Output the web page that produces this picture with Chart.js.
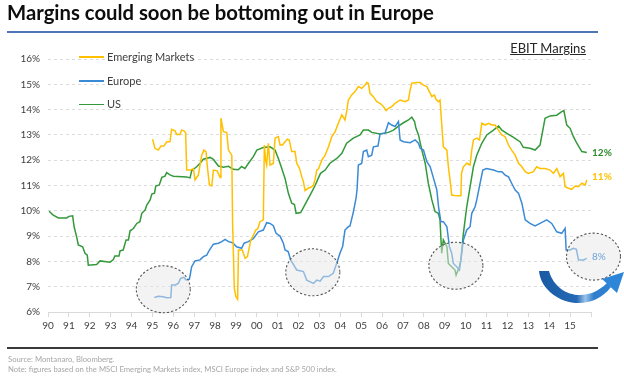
<!DOCTYPE html>
<html>
<head>
<meta charset="utf-8">
<script src="https://cdn.jsdelivr.net/npm/chart.js@4.4.1/dist/chart.umd.min.js"></script>
<style>
  html,body{margin:0;padding:0;background:#fff;}
  #wrap{position:relative;width:624px;height:378px;overflow:hidden;font-family:Lato,"Open Sans",sans-serif;}
  #c{position:absolute;left:0;top:0;}
  .abs{position:absolute;white-space:nowrap;}
</style>
</head>
<body>
<div id="wrap">
  <canvas id="c" width="624" height="378"></canvas>
  <div class="abs" id="title" style="left:7px;top:1px;font-size:20.3px;font-weight:700;color:#0d0d0d;line-height:23px;">Margins could soon be bottoming out in Europe</div>
  <div class="abs" style="left:7px;top:31px;width:591px;height:2px;background:#4f74b8;"></div>
  <div class="abs" style="right:38px;top:40px;font-size:13px;color:#262626;text-decoration:underline;line-height:16px;">EBIT Margins</div>
  <div class="abs" style="left:79px;top:56px;width:25px;height:1.5px;background:#FFC000;"></div>
  <div class="abs" style="left:107px;top:50px;font-size:11px;color:#404040;line-height:14px;">Emerging Markets</div>
  <div class="abs" style="left:79px;top:80px;width:25px;height:1.5px;background:#3A8AD6;"></div>
  <div class="abs" style="left:107px;top:74px;font-size:11px;color:#404040;line-height:14px;">Europe</div>
  <div class="abs" style="left:79px;top:103.5px;width:25px;height:1.5px;background:#33993A;"></div>
  <div class="abs" style="left:107px;top:97px;font-size:11px;color:#404040;line-height:14px;">US</div>
  <div class="abs" style="left:7px;top:347px;width:591px;height:1.5px;background:#3a3a3a;"></div>
  <div class="abs" style="left:8px;top:354px;font-size:7.7px;color:#a6a6a6;line-height:10px;">Source: Montanaro, Bloomberg.</div>
  <div class="abs" style="left:8px;top:364px;font-size:7.7px;color:#a6a6a6;line-height:10px;">Note: figures based on the MSCI Emerging Markets index, MSCI Europe index and S&amp;P 500 index.</div>
</div>
<script>
// ---- Data ----
const xTickYears = [1990,1991,1992,1993,1994,1995,1996,1997,1998,1999,2000,2001,2002,2003,2004,2005,2006,2007,2008,2009,2010,2011,2012,2013,2014,2015,2016];
const xTickLabels = ['90','91','92','93','94','95','96','97','98','99','00','01','02','03','04','05','06','07','08','09','10','11','12','13','14','15',''];
const yTickValues = [6,7,8,9,10,11,12,13,14,15,16];

const usYears = [1990.05,1990.25,1990.5,1990.9,1991.0,1991.18,1991.25,1991.37,1991.45,1991.66,1991.77,1991.88,1991.93,1992.33,1992.49,1992.97,1993.13,1993.2,1993.4,1993.45,1993.6,1993.74,1993.85,1993.93,1994.09,1994.25,1994.4,1994.49,1994.65,1994.73,1994.89,1994.97,1995.1,1995.16,1995.33,1995.45,1995.6,1995.68,1995.84,1996.0,1996.64,1996.8,1996.88,1997.12,1997.28,1997.44,1997.76,1997.92,1998.16,1998.4,1998.64,1998.87,1999.11,1999.27,1999.43,1999.6,1999.83,2000.0,2000.31,2000.63,2000.87,2001.03,2001.19,2001.35,2001.51,2001.67,2001.8,2001.88,2002.1,2002.31,2002.55,2002.79,2002.95,2003.05,2003.27,2003.5,2003.83,2004.07,2004.3,2004.62,2004.94,2005.1,2005.34,2005.5,2005.9,2006.3,2006.54,2006.78,2007.02,2007.26,2007.42,2007.55,2007.62,2007.74,2007.9,2008.06,2008.21,2008.38,2008.53,2008.69,2008.77,2008.85,2008.93,2009.1,2009.17,2009.33,2009.49,2009.54,2009.7,2009.77,2009.89,2010.05,2010.21,2010.37,2010.53,2010.77,2011.01,2011.33,2011.57,2011.73,2011.97,2012.29,2012.6,2012.76,2013.08,2013.32,2013.56,2013.8,2014.04,2014.36,2014.6,2014.7,2014.84,2015.0,2015.16,2015.32,2015.56,2015.8];
const usValues = [9.98,9.83,9.72,9.72,9.78,9.8,9.37,8.98,8.65,8.58,8.32,8.25,7.85,7.88,8.02,7.97,8.07,8.21,8.21,8.42,8.45,8.85,8.85,9.21,9.30,9.50,9.57,9.90,10.03,10.23,10.43,10.66,10.70,10.98,11.02,11.32,11.37,11.51,11.42,11.37,11.34,11.30,11.59,11.74,11.88,12.04,12.11,12.03,11.77,11.72,11.76,11.64,11.62,11.75,11.67,11.88,12.14,12.40,12.50,12.53,12.40,12.07,11.68,11.28,10.69,10.30,10.25,9.90,9.93,10.25,10.62,11.0,11.3,11.48,11.61,11.88,12.07,12.27,12.67,12.87,13.0,13.19,13.19,13.10,13.04,13.10,13.19,13.35,13.48,13.59,13.70,13.53,13.26,13.0,12.40,11.88,11.09,10.43,9.97,9.90,9.64,8.32,8.85,8.58,7.92,7.79,7.66,7.46,7.79,8.06,9.11,10.16,10.95,11.74,12.2,12.67,13.0,13.19,13.35,13.19,13.06,12.9,12.73,12.51,12.47,12.40,12.60,13.66,13.75,13.78,13.92,13.96,13.39,13.26,12.93,12.67,12.34,12.30];

const euYears = [1995.09,1995.28,1995.52,1995.68,1995.88,1995.92,1996.1,1996.24,1996.35,1996.5,1996.61,1996.77,1996.88,1997.04,1997.28,1997.44,1997.6,1997.73,1997.92,1998.16,1998.32,1998.48,1998.64,1998.84,1999.03,1999.27,1999.39,1999.59,1999.83,2000.07,2000.31,2000.47,2000.63,2000.79,2000.92,2001.11,2001.27,2001.35,2001.5,2001.62,2001.91,2002.23,2002.39,2002.71,2002.87,2003.03,2003.19,2003.43,2003.66,2003.82,2003.98,2004.11,2004.22,2004.38,2004.46,2004.62,2004.75,2004.8,2004.86,2005.02,2005.1,2005.26,2005.34,2005.5,2005.58,2005.8,2005.9,2006.14,2006.3,2006.46,2006.62,2006.78,2006.86,2007.02,2007.34,2007.58,2007.74,2007.82,2007.98,2008.14,2008.3,2008.46,2008.62,2008.7,2008.81,2008.93,2009.1,2009.22,2009.33,2009.41,2009.57,2009.7,2009.77,2009.89,2010.05,2010.21,2010.29,2010.45,2010.53,2010.69,2010.82,2011.0,2011.33,2011.57,2011.73,2011.89,2012.05,2012.2,2012.37,2012.53,2012.69,2012.85,2013.08,2013.32,2013.56,2013.88,2014.12,2014.36,2014.6,2014.76,2014.81,2015.0,2015.16,2015.3,2015.4,2015.64,2015.8];
const euValues = [6.57,6.62,6.60,6.56,6.57,7.07,7.07,7.13,7.33,7.37,7.27,7.30,7.79,8.02,8.06,8.19,8.25,8.45,8.68,8.72,8.78,8.87,8.78,8.74,8.58,8.52,8.72,8.78,8.90,9.17,9.24,9.53,9.50,9.41,9.11,9.0,8.72,8.45,8.39,8.06,7.66,7.60,7.26,7.13,7.26,7.22,7.40,7.40,7.53,7.92,8.32,8.60,9.24,9.37,9.40,9.95,10.5,10.85,11.81,11.87,12.34,12.40,12.14,12.20,12.53,12.56,13.04,13.07,13.48,13.39,13.33,13.53,12.80,12.73,12.69,12.80,12.67,12.47,12.40,11.94,11.74,11.28,10.82,10.16,9.57,9.57,9.37,8.58,8.32,7.92,7.79,7.66,8.06,8.85,9.24,9.37,9.90,10.16,10.43,11.09,11.61,11.67,11.61,11.54,11.54,11.41,11.34,11.09,10.82,10.69,10.30,9.64,9.50,9.40,9.50,9.64,9.50,9.17,9.11,9.31,8.45,8.45,8.52,8.48,8.06,8.06,8.12];

const emYears = [1995.01,1995.12,1995.28,1995.41,1995.55,1995.68,1995.84,1995.92,1996.08,1996.16,1996.32,1996.4,1996.51,1996.59,1996.64,1996.8,1996.96,1997.04,1997.2,1997.36,1997.47,1997.57,1997.63,1997.73,1997.84,1997.92,1998.1,1998.24,1998.28,1998.4,1998.56,1998.64,1998.8,1998.84,1998.92,1999.0,1999.08,1999.12,1999.3,1999.44,1999.55,1999.71,1999.8,1999.95,2000.05,2000.15,2000.31,2000.36,2000.42,2000.47,2000.55,2000.63,2000.79,2000.87,2001.03,2001.11,2001.23,2001.35,2001.46,2001.55,2001.67,2001.83,2001.91,2002.04,2002.15,2002.23,2002.31,2002.47,2002.63,2002.71,2002.79,2002.87,2002.95,2003.11,2003.27,2003.43,2003.59,2003.75,2003.9,2004.07,2004.22,2004.3,2004.38,2004.54,2004.7,2004.86,2005.02,2005.18,2005.26,2005.34,2005.42,2005.58,2005.74,2005.9,2006.06,2006.19,2006.3,2006.46,2006.62,2006.86,2007.1,2007.26,2007.34,2007.42,2007.66,2007.82,2007.98,2008.14,2008.26,2008.38,2008.5,2008.58,2008.69,2008.77,2008.85,2008.93,2009.1,2009.17,2009.25,2009.33,2009.57,2009.77,2009.8,2009.89,2010.05,2010.21,2010.29,2010.37,2010.53,2010.66,2010.77,2010.93,2011.09,2011.25,2011.41,2011.57,2011.73,2011.89,2012.05,2012.2,2012.37,2012.53,2012.69,2012.85,2013.0,2013.24,2013.4,2013.56,2013.8,2014.04,2014.2,2014.36,2014.52,2014.68,2014.76,2014.92,2015.08,2015.24,2015.4,2015.56,2015.72,2015.8];
const emValues = [12.83,12.47,12.40,12.56,12.56,12.73,12.73,13.22,13.16,13.02,13.02,13.19,13.16,13.08,11.61,11.61,11.67,11.22,11.42,12.20,12.40,12.33,11.74,11.02,10.98,11.61,11.58,11.32,13.66,13.13,13.09,12.40,12.20,9.50,6.94,6.60,6.50,8.45,8.45,8.12,8.19,8.85,8.98,9.24,9.30,9.57,9.64,12.60,12.00,11.81,12.67,11.81,11.87,12.87,12.93,12.60,12.60,12.73,12.83,12.80,12.34,12.34,11.88,11.68,11.35,11.15,10.80,10.90,10.95,11.02,11.25,11.61,11.65,12.0,12.2,12.53,12.93,13.13,13.46,13.79,13.59,13.92,14.38,14.58,14.71,14.91,14.84,14.97,15.07,15.04,14.64,14.51,14.31,14.25,14.12,13.96,14.05,14.12,14.25,14.38,14.31,14.38,14.78,15.04,15.07,15.07,14.97,14.91,14.71,14.51,14.58,14.41,14.31,14.38,13.46,12.53,12.40,11.74,11.22,10.62,10.59,10.59,11.48,11.74,11.88,11.81,12.40,12.80,12.87,12.80,13.46,13.39,13.46,13.39,13.39,13.19,13.0,12.93,12.60,12.40,12.20,11.88,11.74,11.55,11.48,11.55,11.74,11.67,11.67,11.61,11.48,11.67,11.35,11.48,10.95,10.89,10.85,10.98,10.95,11.09,11.02,11.22];

// annotation circles (data units for centres)
const circleYears = [1995.52, 2002.68, 2009.53, 2016.12];
const circleValues = [6.90, 7.57, 7.83, 8.19];
const endLabels = ['12%', '11%', '8%'];
const endLabelValues = [12.28, 11.34, 8.17];

const pts = (xs, ys) => xs.map((x, i) => ({x, y: ys[i]}));

const annotations = {
  id: 'annotations',
  afterDatasetsDraw(chart) {
    const {ctx, scales: {x, y}} = chart;
    ctx.save();
    // dashed circles
    for (let i = 0; i < circleYears.length; i++) {
      const cx = x.getPixelForValue(circleYears[i]);
      const cy = y.getPixelForValue(circleValues[i]);
      ctx.beginPath();
      ctx.ellipse(cx, cy, 27, 23.5, 0, 0, Math.PI * 2);
      ctx.fillStyle = 'rgba(232,232,232,0.5)';
      ctx.fill();
      ctx.setLineDash([2.2, 2]);
      ctx.lineWidth = 1.1;
      ctx.strokeStyle = '#555';
      ctx.stroke();
    }
    ctx.setLineDash([]);
    // end labels
    const lx = x.getPixelForValue(2016.05);
    ctx.font = 'bold 10px Lato';
    ctx.textBaseline = 'middle';
    ctx.textAlign = 'left';
    ctx.fillStyle = '#2E8B2E';
    ctx.fillText(endLabels[0], lx, y.getPixelForValue(endLabelValues[0]));
    ctx.fillStyle = '#FFC000';
    ctx.fillText(endLabels[1], lx, y.getPixelForValue(endLabelValues[1]));
    ctx.font = '10px Lato';
    ctx.fillStyle = '#6FA3DA';
    ctx.fillText(endLabels[2], lx, y.getPixelForValue(endLabelValues[2]));
    // curved arrow
    const g = ctx.createLinearGradient(538, 0, 624, 0);
    g.addColorStop(0, '#1A5AA3');
    g.addColorStop(0.45, '#2369B5');
    g.addColorStop(0.55, '#9CC2E8');
    g.addColorStop(0.65, '#2E7ECC');
    g.addColorStop(1, '#2E86D8');
    ctx.fillStyle = g;
    ctx.beginPath();
    ctx.moveTo(539, 271);
    ctx.bezierCurveTo(542, 301, 588, 317, 611, 287);
    ctx.lineTo(607, 283);
    ctx.bezierCurveTo(586, 304, 556, 296, 549, 271);
    ctx.closePath();
    ctx.fill();
    ctx.beginPath();
    ctx.moveTo(624, 272);
    ctx.lineTo(602, 279);
    ctx.lineTo(617, 293);
    ctx.closePath();
    ctx.fillStyle = '#2E86D8';
    ctx.fill();
    ctx.restore();
  }
};

new Chart(document.getElementById('c'), {
  type: 'line',
  data: {
    datasets: [
      {label: 'Emerging Markets', data: pts(emYears, emValues), borderColor: '#FFC000', borderWidth: 1.5, pointRadius: 0, tension: 0, fill: false},
      {label: 'Europe', data: pts(euYears, euValues), borderColor: '#3A8AD6', borderWidth: 1.5, pointRadius: 0, tension: 0, fill: false},
      {label: 'US', data: pts(usYears, usValues), borderColor: '#33993A', borderWidth: 1.5, pointRadius: 0, tension: 0, fill: false}
    ]
  },
  options: {
    responsive: false,
    animation: false,
    devicePixelRatio: 1,
    layout: {padding: {left: 0, right: 33, top: 59, bottom: 36}},
    plugins: {legend: {display: false}, tooltip: {enabled: false}},
    scales: {
      x: {
        type: 'linear', min: 1990, max: 2016,
        afterFit(s) { s.height = 30; },
        afterBuildTicks(s) { s.ticks = xTickYears.map(v => ({value: v})); },
        ticks: {autoSkip: false, maxRotation: 0, minRotation: 0, padding: 3, color: '#404040', font: {family: 'Lato', size: 10},
          callback: (v, i) => xTickLabels[i] ?? ''},
        grid: {drawOnChartArea: false, drawTicks: true, tickLength: 5, color: '#d9d9d9'},
        border: {display: true, color: '#d9d9d9', width: 1}
      },
      y: {
        min: 6, max: 16,
        afterFit(s) { s.width = 48; },
        afterBuildTicks(s) { s.ticks = yTickValues.map(v => ({value: v})); },
        ticks: {padding: 8, color: '#404040', font: {family: 'Lato', size: 10}, callback: v => v + '%'},
        grid: {color: '#dcdcdc', drawTicks: false, lineWidth: 1},
        border: {display: false, dash: [3, 3]}
      }
    }
  },
  plugins: [annotations]
});
</script>
</body>
</html>
